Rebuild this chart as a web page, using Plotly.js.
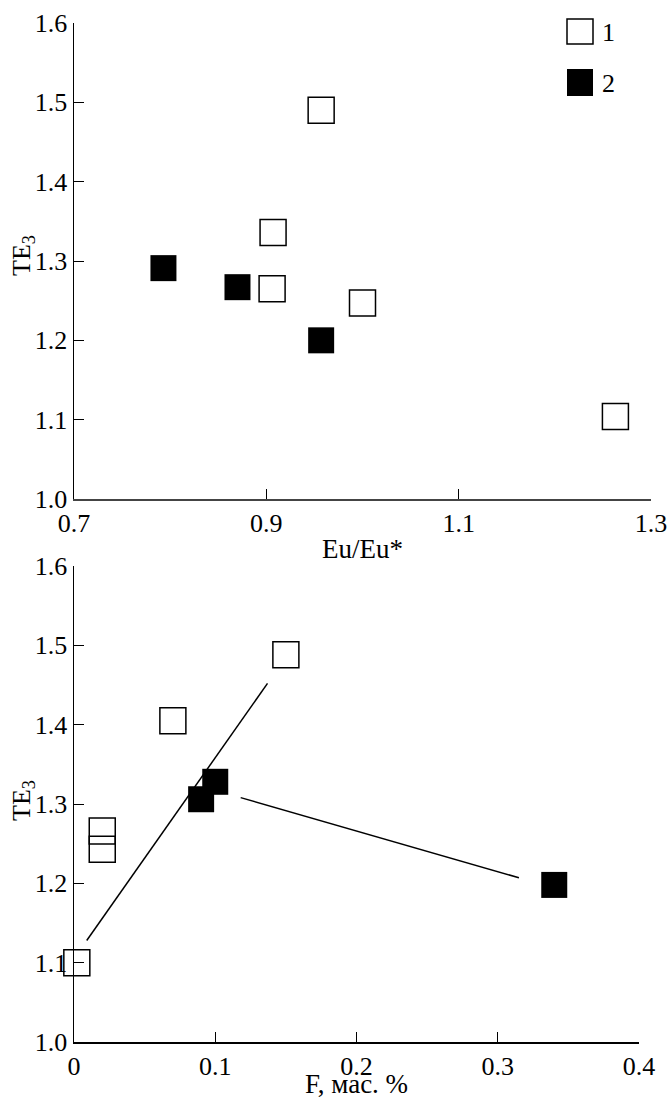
<!DOCTYPE html>
<html>
<head>
<meta charset="utf-8">
<script src="https://cdn.plot.ly/plotly-3.0.1.min.js"></script>
<style>html,body{margin:0;padding:0;background:#fff;}#chart{width:669px;height:1099px;}</style>
</head>
<body>
<div id="chart"></div>
<script>
// Top panel: TE3 vs Eu/Eu*
const euOpen = [0.957, 0.907, 0.906, 1.000, 1.263];
const te3OpenTop = [1.490, 1.336, 1.265, 1.247, 1.104];
const euFilled = [0.793, 0.870, 0.957];
const te3FilledTop = [1.291, 1.267, 1.200];
// Bottom panel: TE3 vs F, mass %
const fOpen = [0.150, 0.070, 0.020, 0.020, 0.002];
const te3OpenBot = [1.488, 1.405, 1.266, 1.243, 1.100];
const fFilled = [0.100, 0.090, 0.340];
const te3FilledBot = [1.328, 1.306, 1.198];
// Trend lines (bottom panel)
const lineAx = [0.009, 0.137];
const lineAy = [1.128, 1.452];
const lineBx = [0.118, 0.315];
const lineBy = [1.308, 1.207];
// Tick labels
const topXTicks = [0.7, 0.9, 1.1, 1.3];
const botXTicks = [0, 0.1, 0.2, 0.3, 0.4];
const yTicks = [1.0, 1.1, 1.2, 1.3, 1.4, 1.5, 1.6];
const legendLabels = ['1', '2'];

const FAM = 'Liberation Serif';
const openMarker = {symbol: 'square-open', size: 26, color: '#000', line: {color: '#000', width: 1.5}};
const filledMarker = {symbol: 'square', size: 26, color: '#000', line: {color: '#000', width: 0}};

const traces = [
  {x: euOpen, y: te3OpenTop, xaxis: 'x', yaxis: 'y', mode: 'markers', marker: openMarker, name: legendLabels[0], showlegend: false, cliponaxis: false},
  {x: euFilled, y: te3FilledTop, xaxis: 'x', yaxis: 'y', mode: 'markers', marker: filledMarker, name: legendLabels[1], showlegend: false, cliponaxis: false},
  {x: lineAx, y: lineAy, xaxis: 'x2', yaxis: 'y2', mode: 'lines', line: {color: '#000', width: 1.5}, showlegend: false},
  {x: lineBx, y: lineBy, xaxis: 'x2', yaxis: 'y2', mode: 'lines', line: {color: '#000', width: 1.5}, showlegend: false},
  {x: fOpen, y: te3OpenBot, xaxis: 'x2', yaxis: 'y2', mode: 'markers', marker: openMarker, showlegend: false, cliponaxis: false},
  {x: fFilled, y: te3FilledBot, xaxis: 'x2', yaxis: 'y2', mode: 'markers', marker: filledMarker, showlegend: false, cliponaxis: false}
];

const W = 669, H = 1099, L = 74, R = 18, T = 23, B = 57;
const pw = W - L - R, ph = H - T - B;
function py(v){ return (H - B - v) / ph; }
function pxp(v){ return (v - L) / pw; }

const layout = {
  width: W, height: H,
  margin: {l: L, r: R, t: T, b: B, pad: 0},
  paper_bgcolor: '#fff', plot_bgcolor: '#fff',
  showlegend: false,
  font: {family: FAM, size: 26, color: '#000'},
  xaxis: {
    domain: [0, 1], anchor: 'y', range: [0.7, 1.3], tickvals: topXTicks, tickformat: '.1f',
    tickfont: {family: FAM, size: 26, color: '#000'},
    showgrid: false, zeroline: false, showline: true, linecolor: '#444', linewidth: 1.5,
    ticks: 'inside', ticklen: 10, tickcolor: '#000',
    title: {text: 'Eu/Eu*', font: {family: FAM, size: 27, color: '#000'}, standoff: 2}
  },
  yaxis: {
    domain: [py(499), 1], anchor: 'x', range: [1.0, 1.6], tickvals: yTicks, tickformat: '.1f',
    tickfont: {family: FAM, size: 26, color: '#000'},
    showgrid: false, zeroline: false, showline: true, linecolor: '#000', linewidth: 1.5,
    ticks: 'inside', ticklen: 10, tickcolor: '#000'
  },
  xaxis2: {
    domain: [0, pxp(639)], anchor: 'y2', range: [0, 0.4], tickvals: botXTicks,
    tickfont: {family: FAM, size: 26, color: '#000'},
    showgrid: false, zeroline: false, showline: true, linecolor: '#000', linewidth: 1.5,
    ticks: 'inside', ticklen: 10, tickcolor: '#000',
    title: {text: 'F, мас. %', font: {family: FAM, size: 27, color: '#000'}, standoff: 3}
  },
  yaxis2: {
    domain: [0, py(566)], anchor: 'x2', range: [1.0, 1.6], tickvals: yTicks, tickformat: '.1f',
    tickfont: {family: FAM, size: 26, color: '#000'},
    showgrid: false, zeroline: false, showline: true, linecolor: '#000', linewidth: 1.5,
    ticks: 'inside', ticklen: 10, tickcolor: '#000'
  },
  shapes: [
    {type: 'rect', xref: 'paper', yref: 'paper', x0: pxp(567), x1: pxp(593), y0: py(44), y1: py(19), line: {color: '#000', width: 1.5}, fillcolor: 'rgba(0,0,0,0)'},
    {type: 'rect', xref: 'paper', yref: 'paper', x0: pxp(567), x1: pxp(593), y0: py(96), y1: py(69), line: {color: '#000', width: 0}, fillcolor: '#000'}
  ],
  annotations: [
    {xref: 'paper', yref: 'paper', x: pxp(600), y: py(32), xanchor: 'left', yanchor: 'middle', text: legendLabels[0], showarrow: false, font: {family: FAM, size: 26, color: '#000'}},
    {xref: 'paper', yref: 'paper', x: pxp(600), y: py(83), xanchor: 'left', yanchor: 'middle', text: legendLabels[1], showarrow: false, font: {family: FAM, size: 26, color: '#000'}},
    {xref: 'paper', yref: 'paper', x: pxp(23), y: py(256), xanchor: 'center', yanchor: 'middle', textangle: -90, text: 'TE<sub>3</sub>', showarrow: false, font: {family: FAM, size: 26, color: '#000'}},
    {xref: 'paper', yref: 'paper', x: pxp(23), y: py(801), xanchor: 'center', yanchor: 'middle', textangle: -90, text: 'TE<sub>3</sub>', showarrow: false, font: {family: FAM, size: 26, color: '#000'}}
  ]
};

Plotly.newPlot('chart', traces, layout, {displayModeBar: false, staticPlot: true});
</script>
</body>
</html>
